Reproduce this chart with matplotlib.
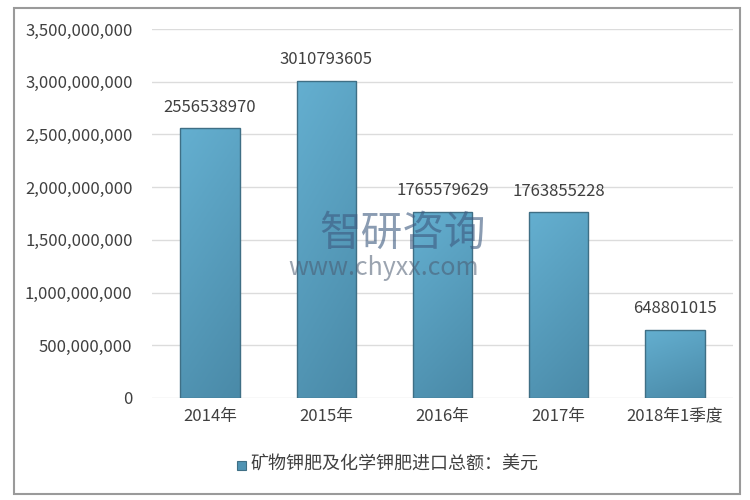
import matplotlib
matplotlib.use("Agg")
import matplotlib.pyplot as plt
import numpy as np
from matplotlib.patches import Rectangle
from matplotlib.colors import LinearSegmentedColormap

plt.rcParams['font.family'] = ['Noto Sans CJK SC', 'DejaVu Sans']

categories = ['2014年', '2015年', '2016年', '2017年', '2018年1季度']
values = [2556538970, 3010793605, 1765579629, 1763855228, 648801015]
value_labels = ['2556538970', '3010793605', '1765579629', '1763855228', '648801015']
series_name = '矿物钾肥及化学钾肥进口总额：美元'
yticks = [0, 500000000, 1000000000, 1500000000, 2000000000, 2500000000, 3000000000, 3500000000]

fig = plt.figure(figsize=(7.5, 5), dpi=100)
# outer frame
fig.patches.append(Rectangle((14/750, 1-494/500), 726/750, 486/500, transform=fig.transFigure,
                             fill=False, edgecolor='#9a9a9a', linewidth=1.5))

ax = fig.add_axes([152/750, 1-398/500, 581/750, 369/500])
ax.set_xlim(-0.5, len(categories)-0.5)
ax.set_ylim(0, 3500000000)

cmap = LinearSegmentedColormap.from_list('b', ['#64afd0', '#4a8aa8'])
grad = np.linspace(0, 1, 64).reshape(-1, 1) * 0.75 + np.linspace(0, 1, 64).reshape(1, -1) * 0.25
bw = 0.51
bars = ax.bar(range(len(categories)), values, width=bw, color='none', edgecolor='#3f6f85', linewidth=1.0, zorder=3)
for b in bars:
    x0, y0, w, h = b.get_x(), b.get_y(), b.get_width(), b.get_height()
    im = ax.imshow(grad, extent=[x0, x0+w, y0, y0+h], aspect='auto', cmap=cmap,
                   origin='upper', zorder=2)
    im.set_clip_path(b)

for i, (v, lab) in enumerate(zip(values, value_labels)):
    ax.annotate(lab, (i, v), xytext=(0, 9), textcoords='offset points', ha='center', va='bottom',
                fontsize=12, color='#404040')

ax.set_yticks(yticks)
ax.set_yticklabels([f'{t:,}' for t in yticks])
ax.set_xticks(range(len(categories)))
ax.set_xticklabels(categories)
ax.tick_params(axis='both', length=0, labelsize=12, labelcolor='#404040')
ax.tick_params(axis='y', pad=14)
ax.tick_params(axis='x', pad=7)
ax.grid(axis='y', color='#dcdcdc', linewidth=1.0, zorder=0)
for s in ax.spines.values():
    s.set_visible(False)
ax.set_axisbelow(True)

# legend
fig.patches.append(Rectangle((237/750, 1-470/500), 9/750, 9/500, transform=fig.transFigure,
                             facecolor='#4f93b3', edgecolor='#3f6f85', linewidth=0.8))
fig.text(250/750, 1-465/500, series_name, ha='left', va='center', fontsize=13, color='#404040')

# watermark
fig.text(403/750, 1-234/500, '智研咨询', ha='center', va='center', fontsize=30,
         color='#3d5a80', alpha=0.6)
fig.text(384/750, 1-268/500, 'www.chyxx.com', ha='center', va='center', fontsize=18,
         color='#4a5a70', alpha=0.55)

fig.savefig('out.png', dpi=100)
